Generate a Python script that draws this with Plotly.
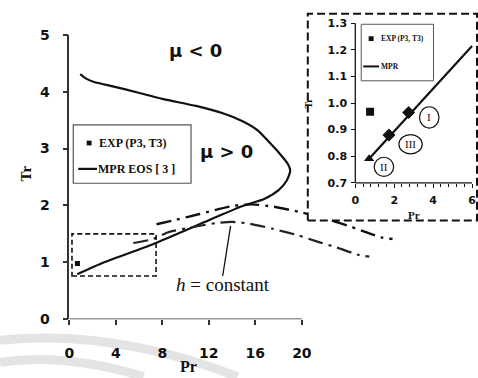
import plotly.graph_objects as go

W, H = 478, 378

# ---------------- data ----------------
# main chart: MPR EOS inversion envelope
env_pr = [0.94, 1.45, 2.13, 3.83, 5.79, 8.09, 10.9, 13.2, 14.9, 16.2, 17.2, 18.1, 18.8, 19.0,
          18.7, 18.0, 16.8, 14.9, 12.0, 7.2, 3.0, 0.68]
env_tr = [4.31, 4.23, 4.17, 4.09, 3.99, 3.87, 3.75, 3.62, 3.48, 3.32, 3.11, 2.91, 2.73, 2.61,
          2.44, 2.27, 2.12, 1.99, 1.74, 1.32, 1.00, 0.79]
# constant-enthalpy curves
h1_pr = [7.5, 9.2, 11.2, 14.0, 15.7, 17.5, 19.7, 22.5, 24.3, 25.5, 26.8, 27.8]
h1_tr = [1.67, 1.75, 1.85, 1.99, 2.02, 1.98, 1.89, 1.74, 1.62, 1.53, 1.44, 1.41]
h2_pr = [5.5, 7.2, 8.5, 10.9, 12.6, 14.0, 15.5, 17.5, 19.6, 21.4, 23.0, 24.9, 25.8]
h2_tr = [1.34, 1.41, 1.53, 1.63, 1.69, 1.71, 1.68, 1.59, 1.48, 1.36, 1.26, 1.13, 1.10]
# experimental point
exp_pr = [0.7]
exp_tr = [0.98]

# inset
in_line_pr = [0.71, 6.0]
in_line_tr = [0.79, 1.215]
in_exp_pr = [0.76]
in_exp_tr = [0.967]
in_pts_pr = [2.74, 1.73]
in_pts_tr = [0.964, 0.88]
in_tri_pr = [0.71]
in_tri_tr = [0.79]
region_labels = ["I", "III", "II"]
region_pr = [3.8, 2.84, 1.47]
region_tr = [0.946, 0.845, 0.76]

main_xticks = [0, 4, 8, 12, 16, 20]
main_yticks = [0, 1, 2, 3, 4, 5]
in_xticks = [0, 2, 4, 6]
in_xminor = [0.4, 0.8, 1.2, 1.6, 2.4, 2.8, 3.2, 3.6, 4.4, 4.8, 5.2, 5.6]
in_yticks = [0.7, 0.8, 0.9, 1.0, 1.1, 1.2, 1.3]

# ---------------- layout helpers ----------------
def px(x):
    return x / W

def py(y):
    return 1 - y / H

# main axes pixel geometry
MX0, MX_PER = 65, 11.75        # Pr=0 at x=65, px per unit
MY0, MY5 = 325, 28             # Tr=0 and Tr=5 pixel rows
# inset geometry
IX0, IX6 = 354, 472
IY07, IY13 = 182.5, 16
BOX = (306, 6, 477, 222)       # inset dashed frame (x0, y0, x1, y1)

ix_per = (IX6 - IX0) / 6.0
iy_per = (IY07 - IY13) / 0.6

SERIF = "Liberation Serif, Times New Roman, serif"
SANS = "DejaVu Sans"
BLACK = "#111111"

fig = go.Figure()

# main traces
fig.add_trace(go.Scatter(x=env_pr, y=env_tr, mode="lines",
                         line=dict(color=BLACK, width=2.2, shape="spline", smoothing=0.6),
                         xaxis="x", yaxis="y", hoverinfo="skip"))
fig.add_trace(go.Scatter(x=h1_pr, y=h1_tr, mode="lines",
                         line=dict(color=BLACK, width=2.4, dash="15px,6px,3px,6px",
                                   shape="spline", smoothing=0.6),
                         xaxis="x", yaxis="y", hoverinfo="skip"))
fig.add_trace(go.Scatter(x=h2_pr, y=h2_tr, mode="lines",
                         line=dict(color="#222222", width=2.2, dash="15px,6px,3px,6px",
                                   shape="spline", smoothing=0.6),
                         xaxis="x", yaxis="y", hoverinfo="skip"))
fig.add_trace(go.Scatter(x=exp_pr, y=exp_tr, mode="markers",
                         marker=dict(symbol="square", size=5, color=BLACK),
                         xaxis="x", yaxis="y", hoverinfo="skip"))

# inset traces
fig.add_trace(go.Scatter(x=in_line_pr, y=in_line_tr, mode="lines",
                         line=dict(color=BLACK, width=2.2),
                         xaxis="x2", yaxis="y2", hoverinfo="skip"))
fig.add_trace(go.Scatter(x=in_exp_pr, y=in_exp_tr, mode="markers",
                         marker=dict(symbol="square", size=8, color=BLACK),
                         xaxis="x2", yaxis="y2", hoverinfo="skip"))
fig.add_trace(go.Scatter(x=in_pts_pr, y=in_pts_tr, mode="markers",
                         marker=dict(symbol="diamond", size=10, color=BLACK),
                         xaxis="x2", yaxis="y2", hoverinfo="skip"))
fig.add_trace(go.Scatter(x=in_tri_pr, y=in_tri_tr, mode="markers",
                         marker=dict(symbol="triangle-up", size=9, color=BLACK),
                         xaxis="x2", yaxis="y2", hoverinfo="skip"))

tickfont_main = dict(family=SANS, size=14, color=BLACK, weight="bold")
tickfont_in = dict(family=SANS, size=11, color=BLACK, weight="bold")

layout = dict(
    width=W, height=H,
    margin=dict(l=0, r=0, t=0, b=0),
    paper_bgcolor="white", plot_bgcolor="white",
    showlegend=False,
    xaxis=dict(domain=[px(MX0), 1.0], range=[0, (W - MX0) / MX_PER],
               showgrid=False, zeroline=False, showline=False,
               tickmode="array", tickvals=main_xticks,
               ticks="outside", ticklen=5, tickwidth=1.5, tickcolor="#333",
               tickfont=tickfont_main, ticklabelstandoff=16, anchor="y"),
    yaxis=dict(domain=[py(MY0), py(MY5)], range=[0, 5],
               showgrid=False, zeroline=False, showline=True, linecolor="#333", linewidth=1.5,
               tickmode="array", tickvals=main_yticks,
               ticks="outside", ticklen=5, tickwidth=1.5, tickcolor="#333",
               tickfont=tickfont_main, ticklabelstandoff=10, anchor="x"),
    xaxis2=dict(domain=[px(BOX[0]), px(BOX[2])],
                range=[-(IX0 - BOX[0]) / ix_per, (BOX[2] - IX0) / ix_per],
                anchor="free", position=py(IY07),
                showgrid=False, zeroline=False, showline=False,
                tickmode="array", tickvals=in_xticks,
                ticks="outside", ticklen=4, tickwidth=1.2, tickcolor=BLACK,
                minor=dict(tickmode="array", tickvals=in_xminor, ticks="outside",
                           ticklen=3, tickwidth=1, tickcolor=BLACK),
                tickfont=tickfont_in, ticklabelstandoff=3),
    yaxis2=dict(domain=[py(BOX[3]), py(BOX[1])],
                range=[0.7 - (BOX[3] - IY07) / iy_per, 1.3 + (IY13 - BOX[1]) / iy_per],
                anchor="free", position=px(IX0),
                showgrid=False, zeroline=False, showline=False,
                tickmode="array", tickvals=in_yticks, tickformat=".1f",
                ticks="outside", ticklen=4, tickwidth=1.2, tickcolor=BLACK,
                tickfont=tickfont_in, ticklabelstandoff=2),
)
fig.update_layout(**layout)

shapes = []
# watermark arcs (background decoration)
def arc(p0, c, p1, width, color):
    return dict(type="path", xref="paper", yref="paper", layer="below",
                path=f"M {px(p0[0])} {py(p0[1])} Q {px(c[0])} {py(c[1])} {px(p1[0])} {py(p1[1])}",
                line=dict(color=color, width=width))

shapes.append(arc((-5, 347), (110, 335), (235, 385), 9, "#e4e4e4"))
shapes.append(arc((-5, 370), (60, 360), (140, 385), 9, "#e4e4e4"))

# main x axis line (only from 0 to 20)
shapes.append(dict(type="line", xref="x", yref="y", x0=main_xticks[0], x1=main_xticks[-1],
                   y0=0, y1=0, line=dict(color="#333", width=1.5)))
# dashed zoom rectangle
shapes.append(dict(type="rect", xref="x", yref="y", x0=0.23, x1=7.46, y0=0.76, y1=1.50,
                   line=dict(color=BLACK, width=1.6, dash="5px,3px")))
# pointer for h = constant
shapes.append(dict(type="line", xref="x", yref="y", x0=13.87, y0=1.64, x1=13.19, y1=0.76,
                   line=dict(color=BLACK, width=1.3)))
# main legend box
shapes.append(dict(type="rect", xref="paper", yref="paper",
                   x0=px(69), x1=px(188), y0=py(183), y1=py(122),
                   line=dict(color="#555", width=1.2)))
shapes.append(dict(type="rect", xref="paper", yref="paper",
                   x0=px(82.5), x1=px(87.5), y0=py(143.5), y1=py(138.5),
                   fillcolor=BLACK, line=dict(width=0)))
shapes.append(dict(type="line", xref="paper", yref="paper",
                   x0=px(74), x1=px(93), y0=py(168), y1=py(168),
                   line=dict(color=BLACK, width=2.2)))

# inset frame
shapes.append(dict(type="rect", xref="paper", yref="paper", layer="above",
                   x0=px(BOX[0]), x1=px(BOX[2]), y0=py(BOX[3]), y1=py(BOX[1]),
                   line=dict(color=BLACK, width=2, dash="8px,4px")))
# inset axis lines
shapes.append(dict(type="line", xref="x2", yref="y2", x0=in_xticks[0], x1=in_xticks[-1],
                   y0=in_yticks[0], y1=in_yticks[0], line=dict(color=BLACK, width=1.3)))
shapes.append(dict(type="line", xref="x2", yref="y2", x0=in_xticks[0], x1=in_xticks[0],
                   y0=in_yticks[0], y1=in_yticks[-1], line=dict(color=BLACK, width=1.3)))
# inset legend box
shapes.append(dict(type="rect", xref="paper", yref="paper",
                   x0=px(360), x1=px(433), y0=py(76), y1=py(17),
                   line=dict(color="#555", width=1)))
shapes.append(dict(type="rect", xref="paper", yref="paper",
                   x0=px(367.5), x1=px(372.5), y0=py(34.5), y1=py(29.5),
                   fillcolor=BLACK, line=dict(width=0)))
shapes.append(dict(type="line", xref="paper", yref="paper",
                   x0=px(362), x1=px(378), y0=py(61), y1=py(61),
                   line=dict(color=BLACK, width=2)))
# region ellipses
half_w = [0.5, 0.6, 0.5]
half_h = [0.04, 0.036, 0.036]
for xc, yc, hw, hh in zip(region_pr, region_tr, half_w, half_h):
    shapes.append(dict(type="circle", xref="x2", yref="y2",
                       x0=xc - hw, x1=xc + hw, y0=yc - hh, y1=yc + hh,
                       line=dict(color=BLACK, width=1.2)))

fig.update_layout(shapes=shapes)

ann = []
def txt(x, y, s, size, family=SERIF, bold=False, xanchor="center", angle=0, yanchor="middle"):
    font = dict(family=family, size=size, color=BLACK)
    if bold:
        font["weight"] = "bold"
    ann.append(dict(xref="paper", yref="paper", x=px(x), y=py(y), text=s, showarrow=False,
                    xanchor=xanchor, yanchor=yanchor, textangle=angle, font=font))

txt(193, 44, "μ < 0", 18, family=SANS, bold=True)
txt(224, 150, "μ > 0", 18, family=SANS, bold=True)
txt(220, 289, "<i>h</i> = constant", 19)
txt(21, 173, "Tr", 15, bold=True, angle=-90)
txt(185, 374, "Pr", 16, bold=True)
txt(93, 141, "EXP (P3, T3)", 12, bold=True, xanchor="left")
txt(92, 168, "MPR EOS [ 3 ]", 12, bold=True, xanchor="left")
txt(378, 32, "EXP (P3, T3)", 7.5, bold=True, xanchor="left")
txt(378, 61, "MPR", 7.5, bold=True, xanchor="left")
txt(307, 99, "Tr", 10, bold=True, angle=-90)
txt(413, 216, "Pr", 11, bold=True)
for lab, xc, yc in zip(region_labels, region_pr, region_tr):
    ann.append(dict(xref="x2", yref="y2", x=xc, y=yc, text=lab, showarrow=False,
                    font=dict(family=SERIF, size=11, color=BLACK)))

fig.update_layout(annotations=ann)

fig.write_html("out.html")
